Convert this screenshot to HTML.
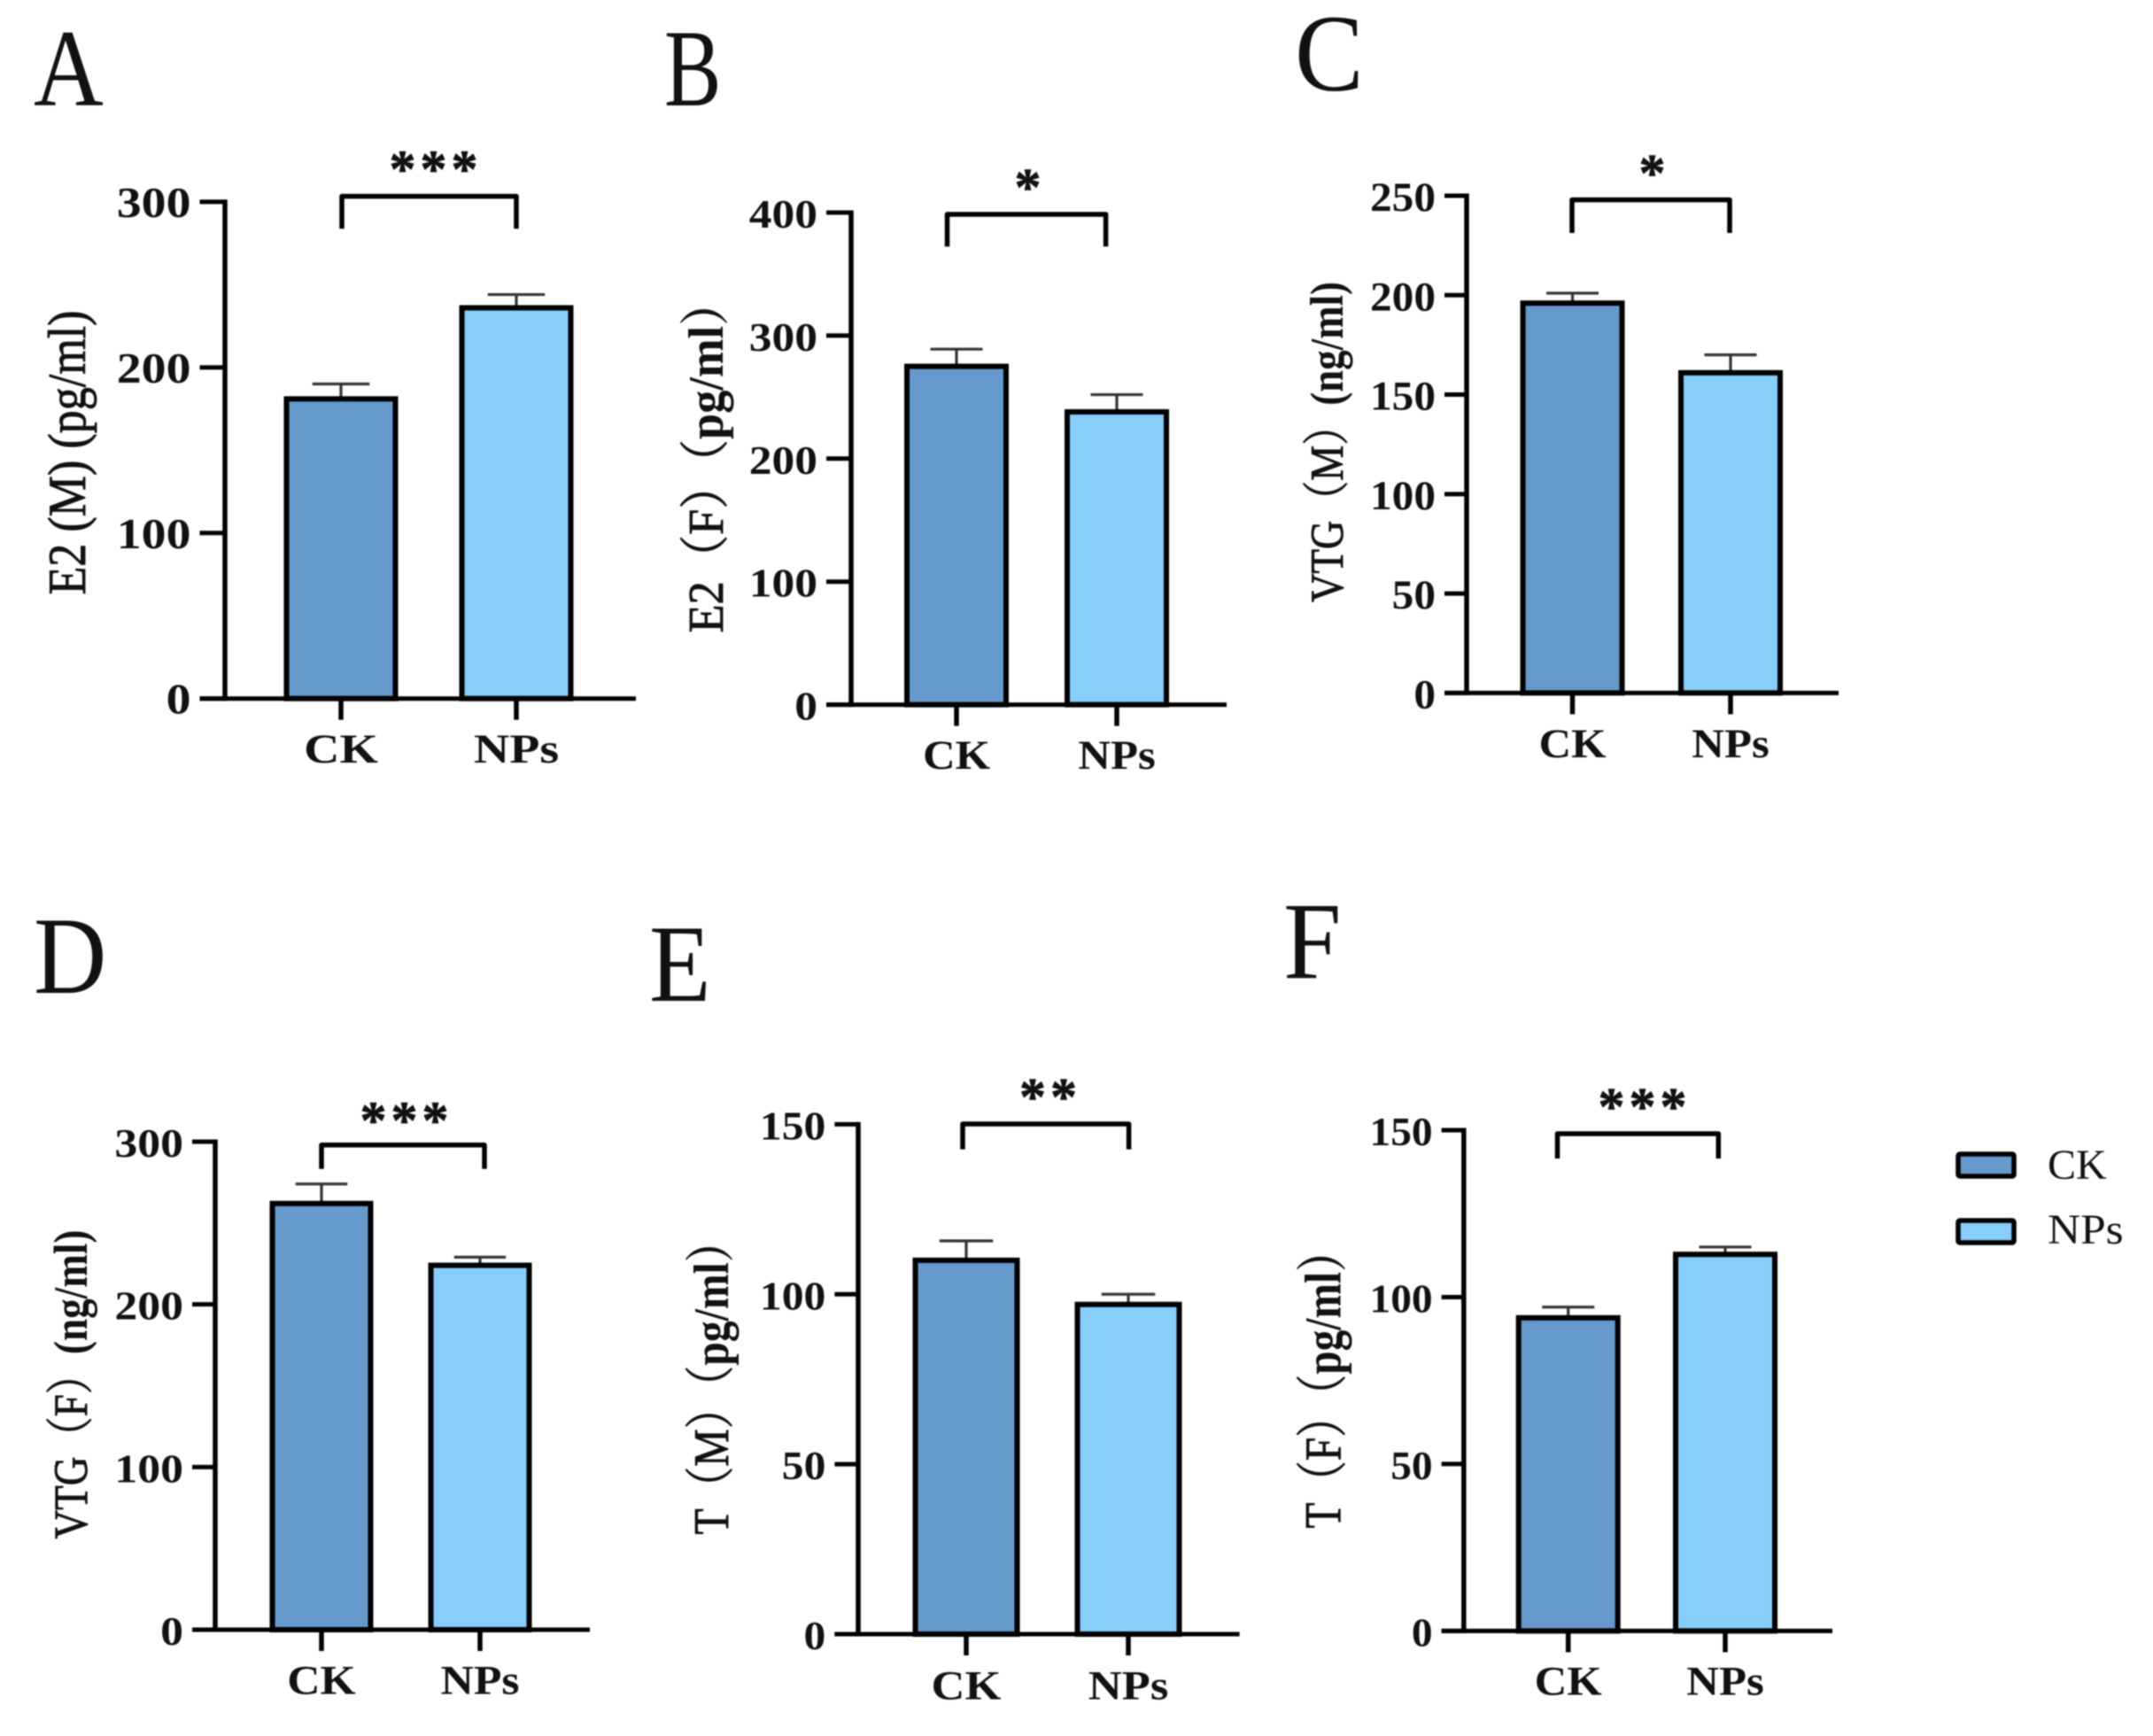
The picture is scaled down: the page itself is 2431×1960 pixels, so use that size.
<!DOCTYPE html>
<html lang="en">
<head>
<meta charset="utf-8">
<title>Hormone levels, CK vs NPs</title>
<style>
html,body{margin:0;padding:0;background:#fff;}
svg{display:block;filter:blur(0.7px);}
text{font-family:"Liberation Serif","Noto Serif CJK SC",serif;fill:#111;}
</style>
</head>
<body>
<svg id="figure" xmlns="http://www.w3.org/2000/svg" width="2431" height="1960" viewBox="0 0 2431 1960">
  <rect x="0" y="0" width="2431" height="1960" fill="#ffffff"/>
  <g>
    <g>
      <rect x="2211" y="1303" width="63" height="25" fill="#6699cc" stroke="#000" stroke-width="5.5" rx="2"/>
      <text x="2312" y="1331" font-size="48">CK</text>
    </g>
    <g>
      <rect x="2211" y="1378" width="63" height="25" fill="#87cefa" stroke="#000" stroke-width="5.5" rx="2"/>
      <text transform="translate(2312 1404) scale(1.07 1)" font-size="48">NPs</text>
    </g>
  </g>
</svg>
<script>
const categories = ['CK', 'NPs'];
const barColors = ['#6699cc', '#87cefa'];

const e2MaleMeans = [181, 236];
const e2MaleErrors = [9, 8];
const e2MaleTicks = [0, 100, 200, 300];

const e2FemaleMeans = [275, 238];
const e2FemaleErrors = [14, 14];
const e2FemaleTicks = [0, 100, 200, 300, 400];

const vtgMaleMeans = [196, 161];
const vtgMaleErrors = [5, 9];
const vtgMaleTicks = [0, 50, 100, 150, 200, 250];

const vtgFemaleMeans = [262, 224];
const vtgFemaleErrors = [12, 5];
const vtgFemaleTicks = [0, 100, 200, 300];

const tMaleMeans = [110, 97];
const tMaleErrors = [5.7, 3];
const tMaleTicks = [0, 50, 100, 150];

const tFemaleMeans = [93.8, 112.8];
const tFemaleErrors = [3.2, 2.2];
const tFemaleTicks = [0, 50, 100, 150];

const SVG_NS = 'http://www.w3.org/2000/svg';
const root = document.getElementById('figure');
const BAR_STROKE = 6;

function add(parent, tag, attrs, content) {
  const el = document.createElementNS(SVG_NS, tag);
  for (const key in attrs) el.setAttribute(key, attrs[key]);
  if (content !== undefined) el.textContent = content;
  parent.appendChild(el);
  return el;
}

function drawPanel(p) {
  const panel = add(root, 'g', {});
  
  

  const letter = add(panel, 'text', {
    transform: 'translate(' + p.letterX + ' ' + p.letterY + ') scale(' + p.letterScale + ' 1)',
    'font-size': 124
  }, p.letter);
  
  

  const yMax = p.ticks[p.ticks.length - 1];
  const yScale = function (v) { return p.y0 - (v / yMax) * (p.y0 - p.yTop); };

  const title = add(panel, 'text', {
    transform: 'translate(' + p.titleX + ' ' + p.titleY + ') rotate(-90)',
    'text-anchor': 'middle',
    'font-size': p.titleSize,
    textLength: p.titleLength,
    lengthAdjust: 'spacingAndGlyphs'
  });
  
  
  const titleMain = add(title, 'tspan', { stroke: '#111', 'stroke-width': 0.9 }, p.titleMain);
  
  
  const titleUnit = add(title, 'tspan', { 'font-weight': p.unitWeight, stroke: '#111', 'stroke-width': p.unitStroke }, p.titleUnit);
  
  

  categories.forEach(function (cat, i) {
    const slug = cat.toLowerCase();
    const cx = p.centers[i];
    const top = yScale(p.means[i]);
    const errTop = yScale(p.means[i] + p.errors[i]);

    const stem = add(panel, 'line', { x1: cx, x2: cx, y1: top, y2: errTop, stroke: '#333', 'stroke-width': 3.2 });
    
    

    const cap = add(panel, 'line', { x1: cx - p.barWidth / 4, x2: cx + p.barWidth / 4, y1: errTop, y2: errTop, stroke: '#333', 'stroke-width': 3.2 });
    
    

    const bar = add(panel, 'rect', {
      x: cx - (p.barWidth - BAR_STROKE) / 2,
      y: top,
      width: p.barWidth - BAR_STROKE,
      height: p.y0 - top,
      fill: barColors[i],
      stroke: '#000',
      'stroke-width': BAR_STROKE
    });
    
    

    const tick = add(panel, 'line', { x1: cx, x2: cx, y1: p.y0, y2: p.y0 + 24, stroke: '#000', 'stroke-width': 5.5 });
    
    

    const label = add(panel, 'text', {
      transform: 'translate(' + cx + ' ' + p.catY + ') scale(' + p.catScale + ' 1)',
      'text-anchor': 'middle',
      'font-size': 47,
      'font-weight': 'bold'
    }, cat);
    
    
  });

  const yAxis = add(panel, 'line', { x1: p.axisX, x2: p.axisX, y1: p.yTop - 2.5, y2: p.y0 + 2.5, stroke: '#000', 'stroke-width': 5.5 });
  
  

  const xAxis = add(panel, 'line', { x1: p.tickLeft, x2: p.xEnd, y1: p.y0, y2: p.y0, stroke: '#000', 'stroke-width': 5 });
  
  

  p.ticks.forEach(function (t) {
    const y = yScale(t);
    const tick = add(panel, 'line', { x1: p.tickLeft, x2: p.axisX, y1: y, y2: y, stroke: '#000', 'stroke-width': 5 });
    
    

    const label = add(panel, 'text', {
      transform: 'translate(' + (p.tickLeft - 10) + ' ' + (y + 17) + ') scale(' + p.tickScale + ' 1)',
      'text-anchor': 'end',
      'font-size': p.tickSize,
      'font-weight': 'bold'
    }, String(t));
    
    
  });

  const bracket = add(panel, 'path', {
    d: 'M' + p.bracketLeft + ' ' + p.bracketBottom + 'V' + p.bracketY + 'H' + p.bracketRight + 'V' + p.bracketBottom,
    fill: 'none',
    stroke: '#000',
    'stroke-width': 5.5,
    'stroke-linejoin': 'round'
  });
  
  

  const stars = add(panel, 'text', {
    x: p.starX + 3,
    y: p.starY + 26,
    'text-anchor': 'middle',
    'font-size': 60,
    'font-weight': 'bold',
    'letter-spacing': 5,
    stroke: '#111',
    'stroke-width': 0.8
  }, p.stars);
  
  
}

drawPanel({
  letter: 'A', letterX: 38, letterY: 119, letterScale: 0.88,
  means: e2MaleMeans, errors: e2MaleErrors, ticks: e2MaleTicks,
  axisX: 254, tickLeft: 225.5, xEnd: 718, y0: 788.7, yTop: 227.9,
  centers: [385, 583], barWidth: 129,
  tickSize: 49, tickScale: 1.14, catY: 861, catScale: 1.19,
  bracketLeft: 386, bracketRight: 583, bracketY: 221.6, bracketBottom: 258.3,
  starX: 489, starY: 185, stars: '***',
  titleMain: 'E2 (M) ', titleUnit: '(pg/ml)', unitWeight: 'normal', unitStroke: 0.9,
  titleX: 96, titleY: 511, titleSize: 60, titleLength: 321
});

drawPanel({
  letter: 'B', letterX: 750, letterY: 119, letterScale: 0.78,
  means: e2FemaleMeans, errors: e2FemaleErrors, ticks: e2FemaleTicks,
  axisX: 961, tickLeft: 933, xEnd: 1385, y0: 795.6, yTop: 240,
  centers: [1080, 1261], barWidth: 118,
  tickSize: 46, tickScale: 1.12, catY: 868, catScale: 1.08,
  bracketLeft: 1069.5, bracketRight: 1248.6, bracketY: 242, bracketBottom: 278.4,
  starX: 1160, starY: 205.5, stars: '*',
  titleMain: 'E2（F）（', titleUnit: 'pg/ml）', unitWeight: 'bold', unitStroke: 0,
  titleX: 816, titleY: 515, titleSize: 56, titleLength: 399
});

drawPanel({
  letter: 'C', letterX: 1462, letterY: 102, letterScale: 0.94,
  means: vtgMaleMeans, errors: vtgMaleErrors, ticks: vtgMaleTicks,
  axisX: 1656, tickLeft: 1631, xEnd: 2076, y0: 782.4, yTop: 221,
  centers: [1775.5, 1954], barWidth: 118,
  tickSize: 47, tickScale: 1.05, catY: 855, catScale: 1.08,
  bracketLeft: 1775, bracketRight: 1953, bracketY: 225.6, bracketBottom: 263,
  starX: 1865, starY: 189.4, stars: '*',
  titleMain: 'VTG（M）', titleUnit: '(ng/ml)', unitWeight: 'bold', unitStroke: 0,
  titleX: 1516, titleY: 499, titleSize: 53, titleLength: 362
});

drawPanel({
  letter: 'D', letterX: 38, letterY: 1121, letterScale: 0.92,
  means: vtgFemaleMeans, errors: vtgFemaleErrors, ticks: vtgFemaleTicks,
  axisX: 243, tickLeft: 217, xEnd: 666, y0: 1840, yTop: 1289,
  centers: [363, 542], barWidth: 117,
  tickSize: 45, tickScale: 1.15, catY: 1912.4, catScale: 1.1,
  bracketLeft: 363, bracketRight: 547, bracketY: 1292.7, bracketBottom: 1319.7,
  starX: 456, starY: 1259, stars: '***',
  titleMain: 'VTG（F）', titleUnit: '(ng/ml)', unitWeight: 'bold', unitStroke: 0,
  titleX: 98, titleY: 1563, titleSize: 54, titleLength: 349
});

drawPanel({
  letter: 'E', letterX: 733, letterY: 1130, letterScale: 0.92,
  means: tMaleMeans, errors: tMaleErrors, ticks: tMaleTicks,
  axisX: 969, tickLeft: 942.4, xEnd: 1399.6, y0: 1845, yTop: 1269.4,
  centers: [1091, 1274], barWidth: 121,
  tickSize: 46, tickScale: 1.08, catY: 1918.6, catScale: 1.12,
  bracketLeft: 1087, bracketRight: 1274.6, bracketY: 1269, bracketBottom: 1297.6,
  starX: 1183, starY: 1232.7, stars: '**',
  titleMain: 'T（M）（', titleUnit: 'pg/ml）', unitWeight: 'bold', unitStroke: 0,
  titleX: 822, titleY: 1555, titleSize: 56, titleLength: 355
});

drawPanel({
  letter: 'F', letterX: 1449, letterY: 1104, letterScale: 0.95,
  means: tFemaleMeans, errors: tFemaleErrors, ticks: tFemaleTicks,
  axisX: 1652.8, tickLeft: 1627.6, xEnd: 2069, y0: 1841.4, yTop: 1276,
  centers: [1770.7, 1948], barWidth: 118,
  tickSize: 46, tickScale: 1.03, catY: 1913.6, catScale: 1.08,
  bracketLeft: 1758.5, bracketRight: 1940.3, bracketY: 1280, bracketBottom: 1308,
  starX: 1854, starY: 1243.7, stars: '***',
  titleMain: 'T（F）（', titleUnit: 'pg/ml）', unitWeight: 'bold', unitStroke: 0,
  titleX: 1513.5, titleY: 1557, titleSize: 58, titleLength: 337
});
</script>
</body>
</html>
